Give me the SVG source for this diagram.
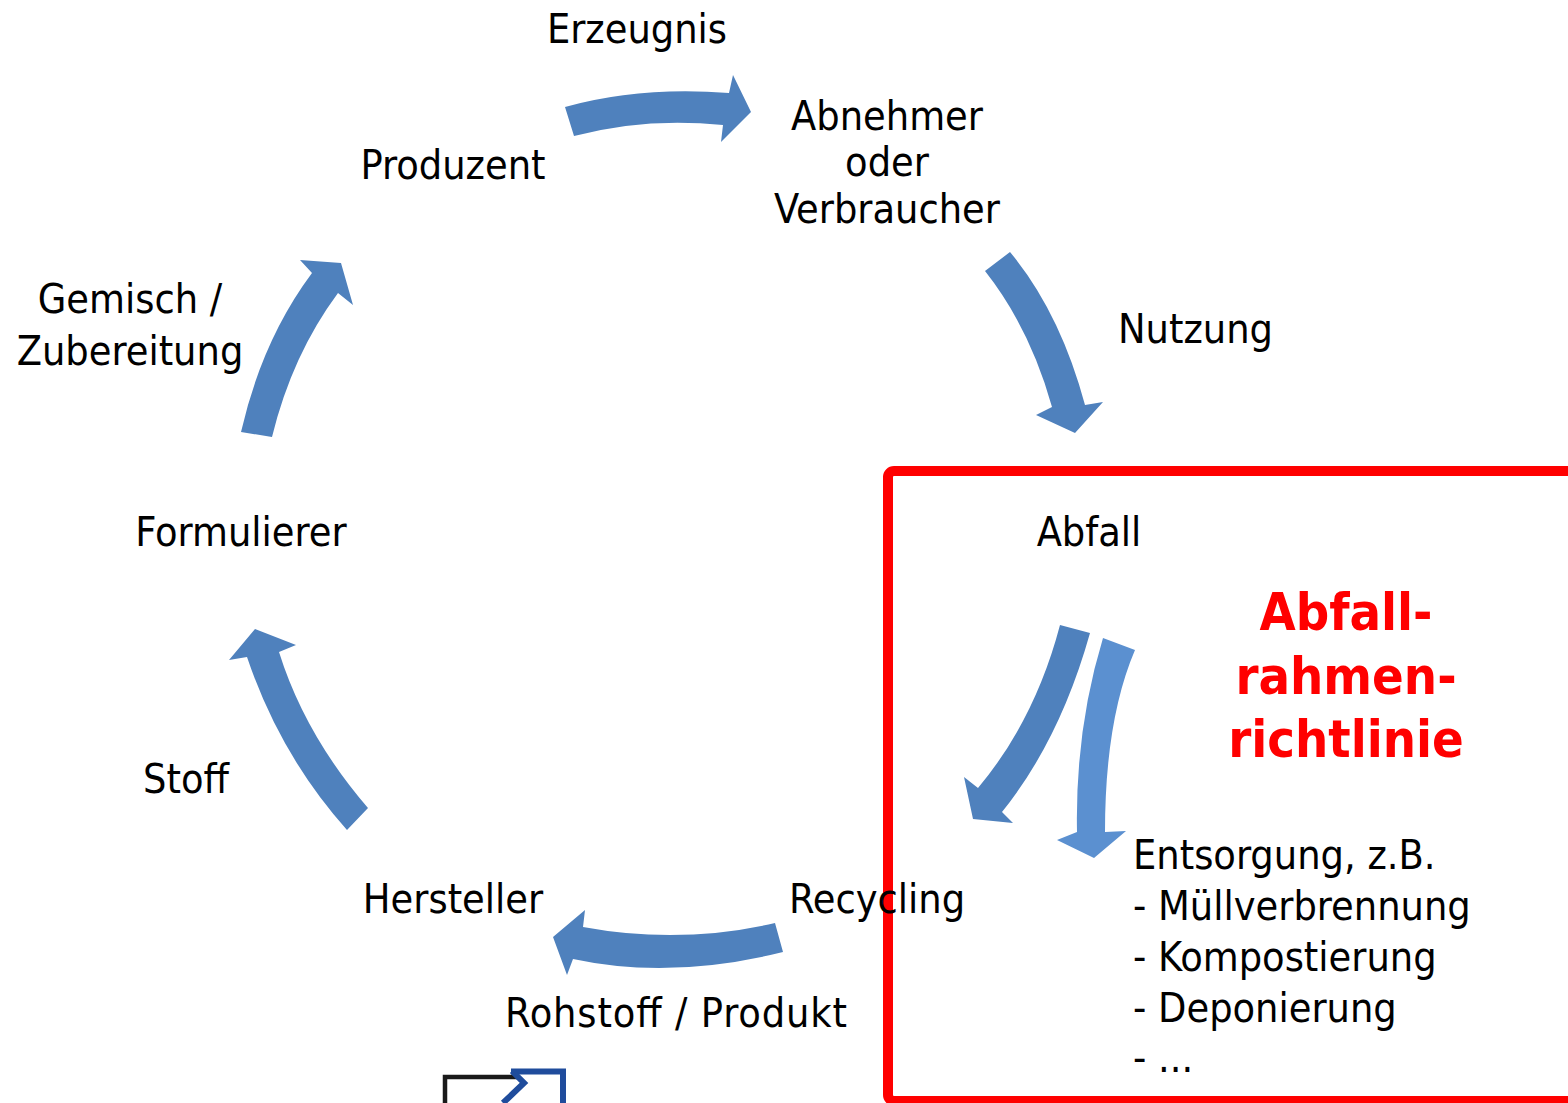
<svg xmlns="http://www.w3.org/2000/svg" width="1568" height="1103" viewBox="0 0 1568 1103">
<style>
  text { font-family: "DejaVu Sans Condensed", "DejaVu Sans", sans-serif; font-size: 41px; fill: #000; }
  .c { text-anchor: middle; }
  .red { font-weight: bold; font-size: 52px; fill: #ff0000; text-anchor: middle; }
  .arr { fill: #4f81bd; }
  .arr2 { fill: #5b90d0; }
</style>
<rect width="1568" height="1103" fill="#ffffff"/>

<g id="connectors">
  <path class="arr" d="M565,107 Q640,86 729,93 L733,75 L751,112 L721,142 L723,125 Q645,117 574,136 Z"/>
  <path class="arr" d="M1010,252 Q1060,312 1085,405 L1103,402 L1075,433 L1036,415 L1052,407 Q1030,328 985,271 Z"/>
  <path class="arr" d="M241,432 Q262,340 312,273 L300,260 L341,263 L353,305 L338,293 Q292,355 272,437 Z"/>
  <path class="arr" d="M368,808 Q305,735 279,652 L296,645 L255,629 L229,660 L247,657 Q280,755 347,830 Z"/>
  <path class="arr" d="M775,923 Q680,945 583,927 L585,910 L553,937 L567,975 L573,959 Q670,980 783,952 Z"/>
  <path class="arr" d="M1090,633 Q1060,740 1002,812 L1013,823 L973,819 L964,777 L978,788 Q1035,720 1060,625 Z"/>
  <path class="arr2" d="M1135,650 Q1105,720 1105,832 L1126,831 L1094,858 L1057,840 L1077,832 Q1075,730 1103,638 Z"/>
</g>

<g id="abfallrahmen-box">
  <rect x="888" y="471" width="800" height="630" rx="6" fill="none" stroke="#ff0000" stroke-width="10"/>
  <text class="red" x="1346" y="630">Abfall-</text>
  <text class="red" x="1346" y="694">rahmen-</text>
  <text class="red" x="1346" y="757">richtlinie</text>
</g>

<g id="erzeugnis"><text class="c" x="637" y="43">Erzeugnis</text></g>
<g id="produzent"><text class="c" x="453" y="179">Produzent</text></g>
<g id="abnehmer">
  <text class="c" x="887" y="130">Abnehmer</text>
  <text class="c" x="887" y="176">oder</text>
  <text class="c" x="887" y="223">Verbraucher</text>
</g>
<g id="nutzung"><text x="1118" y="343">Nutzung</text></g>
<g id="gemisch">
  <text class="c" x="130" y="313">Gemisch /</text>
  <text class="c" x="130" y="365">Zubereitung</text>
</g>
<g id="formulierer"><text class="c" x="241" y="546">Formulierer</text></g>
<g id="abfall"><text class="c" x="1089" y="546">Abfall</text></g>
<g id="stoff"><text class="c" x="186" y="793">Stoff</text></g>
<g id="hersteller"><text class="c" x="453" y="913">Hersteller</text></g>
<g id="recycling"><text class="c" x="877" y="913">Recycling</text></g>
<g id="rohstoff"><text x="505" y="1027" textLength="342" lengthAdjust="spacing">Rohstoff / Produkt</text></g>
<g id="entsorgung">
  <text x="1133" y="869">Entsorgung, z.B.</text>
  <text x="1133" y="920">- Müllverbrennung</text>
  <text x="1133" y="971">- Kompostierung</text>
  <text x="1133" y="1022">- Deponierung</text>
  <text x="1133" y="1072">- ...</text>
</g>

<g id="logo">
  <path d="M445,1103 V1077 H519" fill="none" stroke="#1a1a1a" stroke-width="4.5"/>
  <path d="M511,1071.5 H563 V1103" fill="none" stroke="#1f4c9c" stroke-width="6"/>
  <path d="M512,1071 L524,1083 L503,1103" fill="none" stroke="#1f4c9c" stroke-width="6"/>
</g>
</svg>
